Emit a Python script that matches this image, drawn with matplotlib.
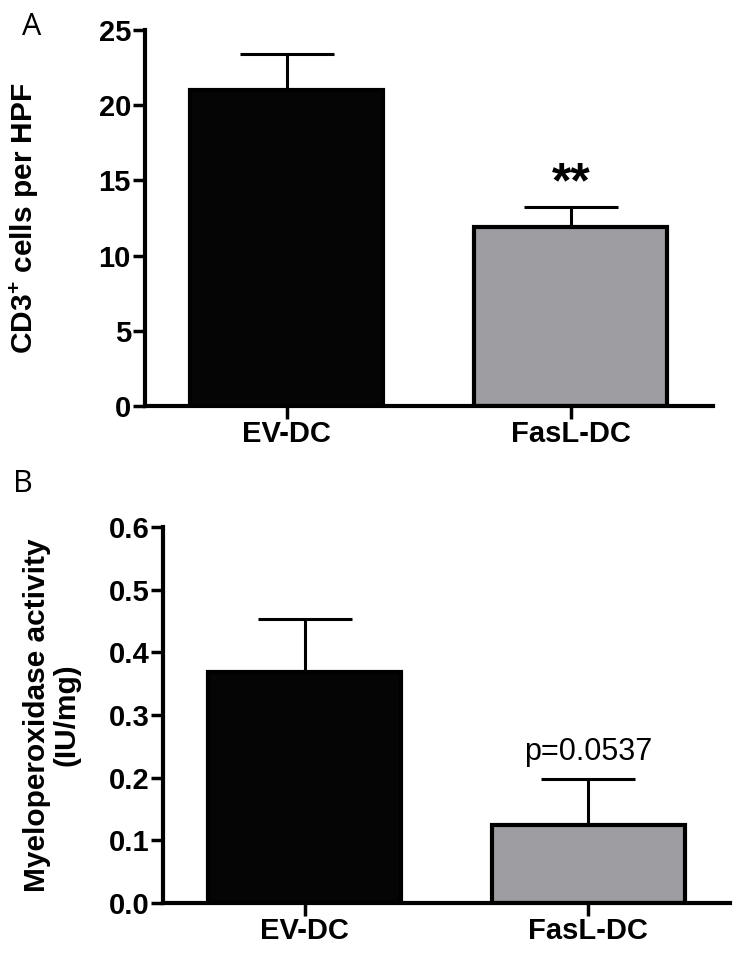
import matplotlib
matplotlib.use("Agg")
import matplotlib.pyplot as plt

plt.rcParams['font.family'] = ['Liberation Sans', 'DejaVu Sans']
plt.rcParams['mathtext.fontset'] = 'custom'
plt.rcParams['mathtext.rm'] = 'Liberation Sans'
plt.rcParams['mathtext.bf'] = 'Liberation Sans:bold'

# Data
groups = ["EV-DC", "FasL-DC"]
cd3_mean = [21.0, 11.9]
cd3_sem = [2.4, 1.3]
mpo_mean = [0.368, 0.124]
mpo_sem = [0.086, 0.074]
bar_colors = ["#050505", "#9e9ea2"]

fig = plt.figure(figsize=(7.43, 9.57), dpi=100)
axA = fig.add_axes([0.195, 0.5758, 0.7645, 0.3929])
axB = fig.add_axes([0.2194, 0.0564, 0.763, 0.3929])


def draw_panel(ax, means, sems, ylim, yticks, ylabel, label_x):
    x = range(len(groups))
    ax.errorbar(x, means, yerr=[[0] * len(sems), sems], fmt='none',
                ecolor='black', elinewidth=2.2, capsize=34, capthick=2.2, zorder=1)
    ax.bar(x, means, width=0.68, color=bar_colors, edgecolor='black',
           linewidth=3, zorder=2)
    ax.set_xlim(-0.5, 1.5)
    ax.set_ylim(*ylim)
    ax.set_yticks(yticks)
    ax.set_xticks(list(x))
    ax.set_xticklabels(groups, fontsize=21, fontweight='bold')
    for lab in ax.get_yticklabels():
        lab.set_fontweight('bold')
        lab.set_fontsize(21)
    ax.spines['top'].set_visible(False)
    ax.spines['right'].set_visible(False)
    ax.spines['left'].set_linewidth(3)
    ax.spines['bottom'].set_linewidth(3)
    ax.tick_params(axis='both', direction='out', length=9, width=2.5, pad=1)
    ax.set_ylabel(ylabel, fontsize=21.5, fontweight='bold', linespacing=1.1)
    ax.yaxis.set_label_coords(label_x, 0.5)


draw_panel(axA, cd3_mean, cd3_sem, (0, 25), [0, 5, 10, 15, 20, 25],
           r"CD3$^{\mathbf{+}}$ cells per HPF", -0.183)
draw_panel(axB, mpo_mean, mpo_sem, (0, 0.6), [0, 0.1, 0.2, 0.3, 0.4, 0.5, 0.6],
           "Myeloperoxidase activity\n(IU/mg)", -0.145)
axB.set_yticklabels(["0.0", "0.1", "0.2", "0.3", "0.4", "0.5", "0.6"],
                    fontsize=21, fontweight='bold')

axA.text(1, 13.9, "**", ha='center', va='baseline',
         fontsize=36, fontweight='bold')
axB.text(1, 0.229, "p=0.0537", ha='center', va='baseline', fontsize=22)

fig.text(0.030, 0.972, "A", fontsize=22, family='Open Sans', va='center')
fig.text(0.018, 0.494, "B", fontsize=22, family='Open Sans', va='center')

fig.savefig("out.png", dpi=100)
